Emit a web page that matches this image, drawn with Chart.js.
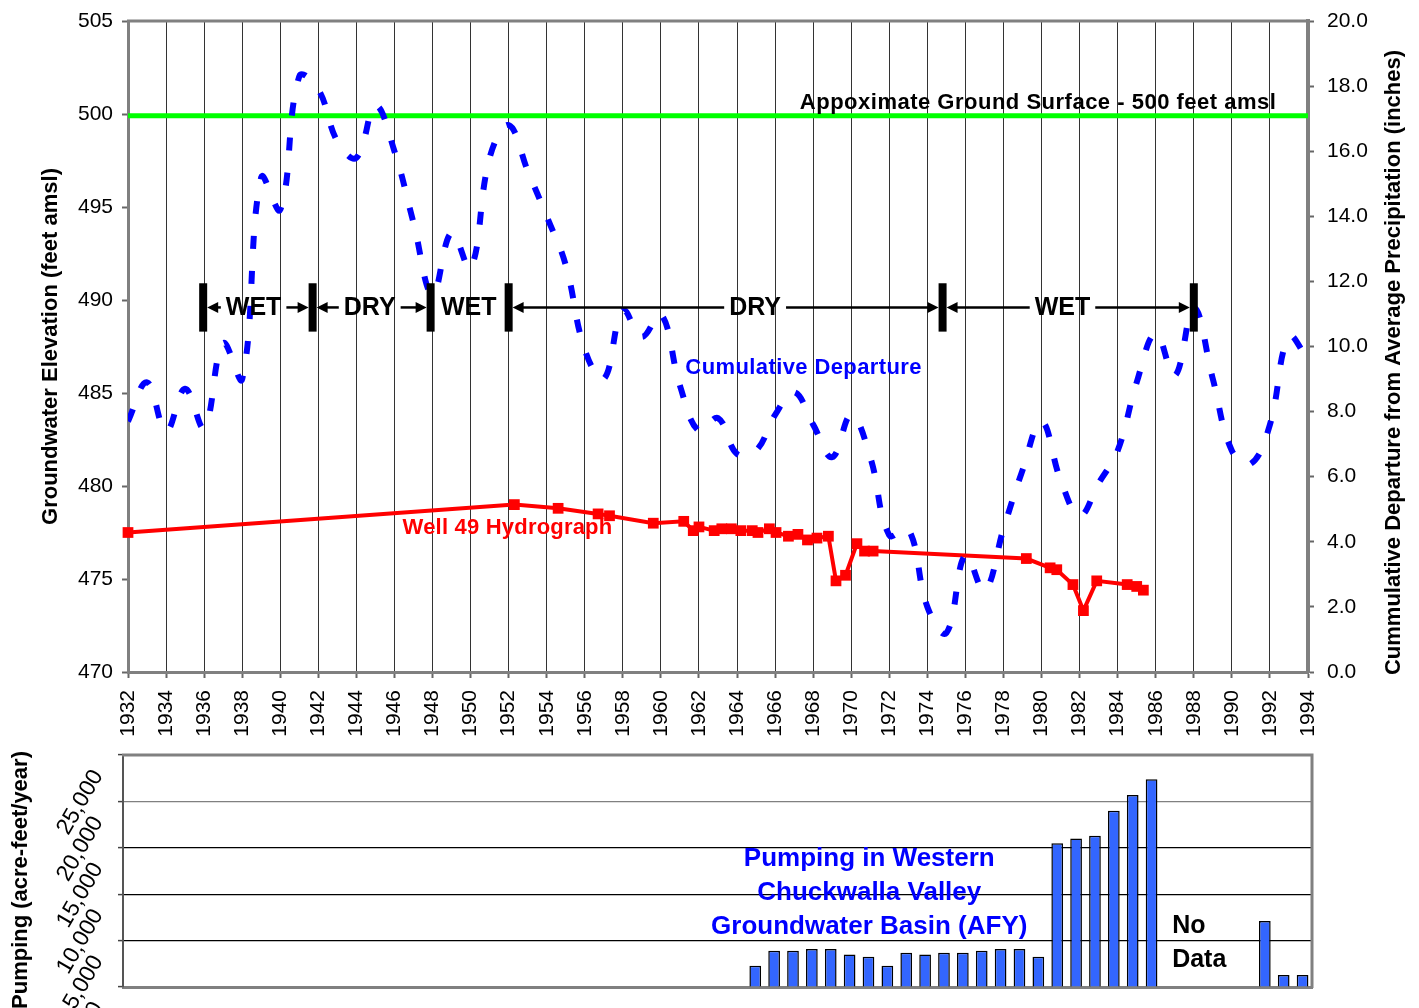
<!DOCTYPE html>
<html><head><meta charset="utf-8">
<script src="https://cdn.jsdelivr.net/npm/chart.js@4.4.0/dist/chart.umd.min.js"></script>
<style>
html,body{margin:0;padding:0;background:#fff;overflow:hidden;width:1419px;height:1008px;}
#top{position:absolute;left:0;top:0;}
#bottom{position:absolute;left:0;top:740px;}
</style></head><body>
<canvas id="top" width="1419" height="745"></canvas>
<canvas id="bottom" width="1419" height="300"></canvas>
<script>
// ---------------- DATA ----------------
// Cumulative departure from average precipitation (inches), right axis
const cumYears = [1932,1933,1934,1935,1936,1937,1938,1939,1940,1941,1942,1943,1944,1945,1946,1947,1948,1949,1950,1951,
  1952,1953,1954,1955,1956,1957,1958,1959,1960,1961,1962,1963,1964,1965,1966,1967,1968,1969,1970,1971,
  1972,1973,1974,1975,1976,1977,1978,1979,1980,1981,1982,1983,1984,1985,1986,1987,1988,1989,1990,1991,
  1992,1993,1994];
const cumDeparture = [7.7,8.9,7.4,8.7,7.5,10.1,9.0,15.2,14.2,18.3,17.9,16.3,15.8,17.4,16.0,13.8,11.6,13.5,12.4,15.8,
  16.8,15.4,14.0,12.5,9.9,9.0,11.1,10.3,11.0,8.8,7.4,7.8,6.7,6.8,7.9,8.6,7.6,6.6,7.9,6.6,
  4.2,4.4,2.0,1.2,3.6,2.5,4.4,6.2,7.7,5.9,4.8,5.8,6.8,8.9,10.4,9.1,11.2,9.0,6.8,6.4,
  7.6,10.3,9.6];

// Well 49 hydrograph (feet amsl), left axis
const wellYears = [1932.0,1952.3,1954.6,1956.7,1957.3,1959.6,1961.2,1961.7,1962.0,1962.8,1963.2,1963.7,1964.2,1964.8,
  1965.1,1965.7,1966.05,1966.7,1967.2,1967.7,1968.2,1968.8,1969.2,1969.7,1970.3,1970.7,1971.15,
  1979.2,1980.45,1980.8,1981.65,1982.2,1982.9,1984.5,1985.0,1985.35];
const wellLevels = [477.5,479.0,478.8,478.5,478.4,478.0,478.1,477.6,477.8,477.6,477.7,477.7,477.6,477.6,
  477.5,477.7,477.5,477.3,477.4,477.1,477.2,477.3,474.9,475.2,476.9,476.5,476.5,
  476.1,475.6,475.5,474.7,473.3,474.9,474.7,474.6,474.4];

// Approximate ground surface
const groundYears = [1932, 1994];
const groundLevels = [499.9, 499.9];

// Wet / dry periods
const periodEdges = [1935.95, 1941.7, 1947.9, 1952.0, 1974.8, 1988.0];
const periodNames = ['WET', 'DRY', 'WET', 'DRY', 'WET'];
const periodTextAt = [1938.6, 1944.7, 1949.9, 1964.95, 1981.1];
const periodArrows = [true, true, false, true, true];

// Axis tick values
const elevTicks = {min: 470, max: 505, step: 5};
const precipTicks = {min: 0, max: 20, step: 2};
const yearTicks = {min: 1932, max: 1994, step: 2};
const pumpTicks = {min: 0, max: 25000, step: 5000};

// Pumping in western Chuckwalla Valley (AFY)
const pumpYears = [1965,1966,1967,1968,1969,1970,1971,1972,1973,1974,1975,1976,1977,1978,1979,1980,
  1981,1982,1983,1984,1985,1986,1992,1993,1994];
const pumpValues = [2300,3900,3900,4100,4100,3500,3250,2300,3700,3500,3700,3700,3900,4100,4100,3250,
  15500,16000,16300,19000,20700,22400,7100,1300,1300];

// ---------------- RENDER ----------------
const FONT = "'Liberation Sans', Arial, sans-serif";
Chart.defaults.font.family = FONT;
Chart.defaults.color = '#000';
Chart.defaults.animation = false;

const allYears = [];
for (let yr = yearTicks.min; yr <= yearTicks.max; yr++) allYears.push(String(yr));
const pumpSeries = allYears.map(s => { const i = pumpYears.indexOf(Number(s)); return i < 0 ? null : pumpValues[i]; });

function noPad(s) { s.paddingTop = 0; s.paddingBottom = 0; s.paddingLeft = 0; s.paddingRight = 0; }
function spacing(ctx, v) { if ('letterSpacing' in ctx) ctx.letterSpacing = v; }

function arrow(ctx, from, to, yy) {
  const dir = Math.sign(to - from);
  ctx.lineWidth = 2.5; ctx.strokeStyle = '#000'; ctx.fillStyle = '#000';
  ctx.beginPath(); ctx.moveTo(from, yy); ctx.lineTo(to - dir * 8, yy); ctx.stroke();
  ctx.beginPath(); ctx.moveTo(to, yy); ctx.lineTo(to - dir * 11, yy - 5.5); ctx.lineTo(to - dir * 11, yy + 5.5); ctx.closePath(); ctx.fill();
}

const topNotes = {
  id: 'topNotes',
  afterDatasetsDraw(chart) {
    const {ctx, scales: {x, y, y2}, chartArea: a} = chart;
    ctx.save();
    // top frame
    ctx.strokeStyle = '#808080'; ctx.lineWidth = 3;
    ctx.beginPath(); ctx.moveTo(a.left - 1, a.top); ctx.lineTo(a.right + 2, a.top); ctx.stroke();

    // wet/dry period markers
    const yL = y.getPixelForValue(489.6), yT = y.getPixelForValue(490.9), yB = y.getPixelForValue(488.3);
    ctx.fillStyle = '#000';
    periodEdges.forEach(e => { const px = x.getPixelForValue(e); ctx.fillRect(px - 4, yT, 8, yB - yT); });
    ctx.font = 'bold 25px ' + FONT; ctx.textAlign = 'center'; ctx.textBaseline = 'middle';
    periodNames.forEach((n, i) => {
      const tx = x.getPixelForValue(periodTextAt[i]);
      ctx.fillStyle = '#000';
      ctx.fillText(n, tx, yL + 1);
      if (periodArrows[i]) {
        const w = ctx.measureText(n).width;
        const l = x.getPixelForValue(periodEdges[i]) + 4, r = x.getPixelForValue(periodEdges[i + 1]) - 4;
        arrow(ctx, tx - w / 2 - 5, l, yL);
        arrow(ctx, tx + w / 2 + 5, r, yL);
      }
    });

    // text notes
    ctx.textBaseline = 'alphabetic';
    ctx.font = 'bold 22px ' + FONT;
    ctx.textAlign = 'left'; ctx.fillStyle = '#000';
    spacing(ctx, '0.5px');
    ctx.fillText('Appoximate Ground Surface - 500 feet amsl', x.getPixelForValue(1967.3), y.getPixelForValue(500.28));
    spacing(ctx, '0.4px');
    ctx.textAlign = 'center'; ctx.fillStyle = '#0000FF';
    ctx.fillText('Cumulative Departure', x.getPixelForValue(1967.5), y.getPixelForValue(486.0));
    spacing(ctx, '0.2px');
    ctx.fillStyle = '#FF0000';
    ctx.fillText('Well 49 Hydrograph', x.getPixelForValue(1951.94), y.getPixelForValue(477.4));
    spacing(ctx, '0px');

    // right axis title (reads bottom to top)
    ctx.save();
    ctx.translate(y2.right - 25, (a.top + a.bottom) / 2 + 16);
    ctx.rotate(-Math.PI / 2);
    ctx.font = 'bold 22px ' + FONT; ctx.fillStyle = '#000'; ctx.textAlign = 'center'; ctx.textBaseline = 'middle';
    ctx.fillText('Cummulative Departure from Average Precipitation (inches)', 0, 0);
    ctx.restore();
    ctx.restore();
  }
};

new Chart(document.getElementById('top'), {
  type: 'line',
  data: {
    datasets: [
      { label: 'Cumulative Departure', data: cumYears.map((v, i) => ({x: v, y: cumDeparture[i]})), yAxisID: 'y2',
        borderColor: '#0000FF', borderWidth: 6, borderDash: [13, 22], borderCapStyle: 'butt', tension: 0.4,
        pointRadius: 0, fill: false, order: 0 },
      { label: 'Well 49 Hydrograph', data: wellYears.map((v, i) => ({x: v, y: wellLevels[i]})), yAxisID: 'y',
        borderColor: '#FF0000', backgroundColor: '#FF0000', borderWidth: 4, pointStyle: 'rect', pointRadius: 7.6,
        pointBorderWidth: 0, pointBackgroundColor: '#FF0000', tension: 0, fill: false, clip: false, order: 1 },
      { label: 'Ground Surface', data: groundYears.map((v, i) => ({x: v, y: groundLevels[i]})), yAxisID: 'y',
        borderColor: '#00FF00', borderWidth: 5, pointRadius: 0, fill: false, order: 2 }
    ]
  },
  options: {
    responsive: false, devicePixelRatio: 1, animation: false, events: [],
    layout: { padding: { top: 21, left: 0, right: 0, bottom: 0 } },
    plugins: { legend: { display: false }, tooltip: { enabled: false } },
    scales: {
      x: { type: 'linear', position: 'bottom', min: yearTicks.min, max: yearTicks.max,
        ticks: { stepSize: yearTicks.step, autoSkip: false, minRotation: 90, maxRotation: 90, padding: 12,
          font: { size: 21 }, color: '#000', callback: v => String(v) },
        grid: { color: '#333', lineWidth: 1, tickLength: 6, tickColor: '#666', tickWidth: 2 },
        border: { color: '#808080', width: 3 },
        afterFit: s => { s.height = 73; noPad(s); } },
      y: { type: 'linear', position: 'left', min: elevTicks.min, max: elevTicks.max,
        ticks: { stepSize: elevTicks.step, autoSkip: false, padding: 9, font: { size: 21 }, color: '#000' },
        grid: { drawOnChartArea: false, tickLength: 6, tickColor: '#666', tickWidth: 2 },
        border: { color: '#808080', width: 3 },
        title: { display: true, text: 'Groundwater Elevation (feet amsl)', color: '#000',
          font: { size: 22, weight: 'bold' }, padding: { top: 38, bottom: 0 } },
        afterFit: s => { s.width = 128; noPad(s); } },
      y2: { type: 'linear', position: 'right', min: precipTicks.min, max: precipTicks.max,
        ticks: { stepSize: precipTicks.step, autoSkip: false, padding: 13, font: { size: 21 }, color: '#000',
          callback: v => Number(v).toFixed(1) },
        grid: { drawOnChartArea: false, tickLength: 6, tickColor: '#666', tickWidth: 2 },
        border: { color: '#808080', width: 4 },
        afterFit: s => { s.width = 111; noPad(s); } }
    }
  },
  plugins: [topNotes]
});

const bottomNotes = {
  id: 'bottomNotes',
  afterDatasetsDraw(chart) {
    const {ctx, scales: {x, y}, chartArea: a} = chart;
    ctx.save();
    ctx.strokeStyle = '#808080'; ctx.lineWidth = 3;
    ctx.beginPath(); ctx.moveTo(a.left - 1, a.top); ctx.lineTo(a.right, a.top); ctx.lineTo(a.right, a.bottom + 1); ctx.stroke();
    const xi = yr => x.getPixelForValue(yr - yearTicks.min);
    ctx.font = 'bold 26px ' + FONT; ctx.fillStyle = '#0000FF'; ctx.textAlign = 'center'; ctx.textBaseline = 'alphabetic';
    ctx.fillText('Pumping in Western', xi(1971.04), y.getPixelForValue(13050));
    ctx.fillText('Chuckwalla Valley', xi(1971.04), y.getPixelForValue(9400));
    ctx.fillText('Groundwater Basin (AFY)', xi(1971.04), y.getPixelForValue(5750));
    ctx.font = 'bold 25px ' + FONT;
    ctx.fillStyle = '#000'; ctx.textAlign = 'left';
    ctx.fillText('No', xi(1987.09), y.getPixelForValue(5850));
    ctx.fillText('Data', xi(1987.09), y.getPixelForValue(2190));
    // axis title
    ctx.save();
    ctx.translate(21, (a.top + a.bottom) / 2 + 9);
    ctx.rotate(-Math.PI / 2);
    ctx.font = 'bold 22px ' + FONT; ctx.fillStyle = '#000'; ctx.textAlign = 'center'; ctx.textBaseline = 'middle';
    ctx.fillText('Pumping (acre-feet/year)', 0, 0);
    ctx.restore();
    ctx.restore();
  }
};

new Chart(document.getElementById('bottom'), {
  type: 'bar',
  data: {
    labels: allYears,
    datasets: [{ label: 'Pumping', data: pumpSeries, backgroundColor: '#3366FF', borderColor: '#000',
      borderWidth: 1.5, barPercentage: 0.62, categoryPercentage: 1 }]
  },
  options: {
    responsive: false, devicePixelRatio: 1, animation: false, events: [],
    layout: { padding: { top: 15, left: 0, right: 107, bottom: 0 } },
    plugins: { legend: { display: false }, tooltip: { enabled: false } },
    scales: {
      x: { type: 'category', ticks: { display: false }, grid: { display: false },
        border: { color: '#808080', width: 3 }, afterFit: s => { s.height = 53; noPad(s); } },
      y: { min: pumpTicks.min, max: pumpTicks.max,
        ticks: { stepSize: pumpTicks.step, autoSkip: false, minRotation: 60, maxRotation: 60, labelOffset: 17,
          padding: 20, font: { size: 23 }, color: '#000', callback: v => Number(v).toLocaleString('en-US') },
        grid: { color: c => (c.tick && c.tick.value === 20000 ? '#808080' : '#000'), lineWidth: 1.2,
          tickLength: 5, tickColor: '#444', tickWidth: 1.5 },
        border: { color: '#555', width: 2 },
        afterFit: s => { s.width = 123; noPad(s); } }
    }
  },
  plugins: [bottomNotes]
});
</script></body></html>
